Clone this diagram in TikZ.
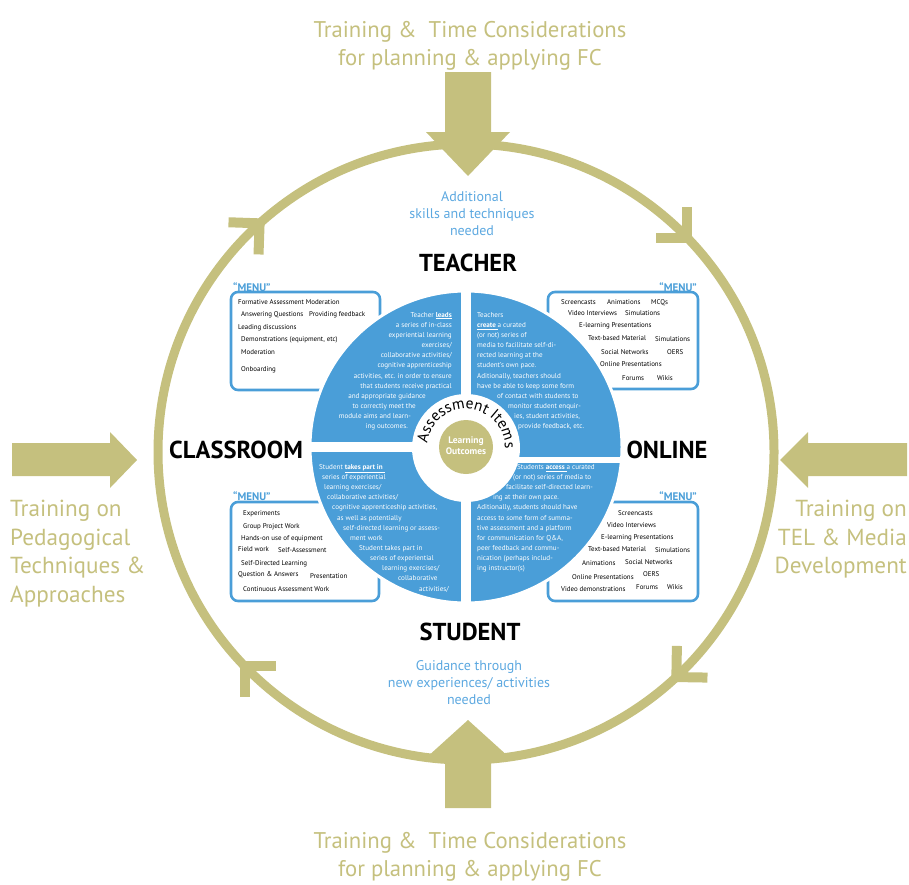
\documentclass[tikz,border=0pt]{standalone}
\usepackage{fontspec}
\setmainfont{PT Sans}
\usetikzlibrary{decorations.text}

\definecolor{fcolive}{RGB}{197,192,126}
\definecolor{fcblue}{RGB}{74,158,216}
\definecolor{fcsky}{RGB}{92,168,224}

\newcommand{\rpad}[1]{\rule{#1}{0pt}}

\tikzset{
    ring/.style={draw=fcolive, line width=9},
    chev/.style={draw=fcolive, line width=10, miter limit=10},
    bigarrow/.style={fill=fcolive},
    quad/.style={fill=fcblue, draw=white, line width=3},
    cut/.style={fill=white},
    menubox/.style={draw=fcblue, fill=white, line width=2.6, rounded corners=7},
    menutag/.style={font=\fontsize{11}{11}\selectfont\bfseries, text=fcblue, inner sep=0, anchor=base west},
    item/.style={font=\fontsize{6.9}{7}\selectfont, inner sep=0, anchor=base west},
    qtext/.style={font=\fontsize{7.1}{10.15}\selectfont, text=white, inner sep=0},
    role/.style={font=\fontsize{24.5}{24.5}\selectfont\bfseries, inner sep=0},
    need/.style={font=\fontsize{14}{17}\selectfont, text=fcsky, align=center, inner sep=0, anchor=north},
    train/.style={font=\fontsize{22.7}{28.6}\selectfont, text=fcolive, inner sep=0},
  }

\begin{document}
\begin{tikzpicture}[x=1pt, y=1pt]
    \useasboundingbox (0,0) rectangle (909,-884);

    % outer cycle
    \draw[ring] (466,-452) circle[radius=308];
    \foreach \a in {133,45,-46,-135} {
        \begin{scope}[shift={(466,-452)}, rotate=\a]
            \draw[chev] (286,17) -- (308,-5) -- (330,17);
        \end{scope}
    }

    % training arrows
    \fill[bigarrow] (445,-72) -- (491,-72) -- (491,-132) -- (510,-132) -- (468,-176) -- (426,-132) -- (445,-132) -- cycle;
    \fill[bigarrow] (445,-808) -- (491,-808) -- (491,-758) -- (510,-758) -- (468,-720) -- (426,-758) -- (445,-758) -- cycle;
    \fill[bigarrow] (12,-443) -- (110,-443) -- (110,-432) -- (137,-460) -- (110,-488) -- (110,-476) -- (12,-476) -- cycle;
    \fill[bigarrow] (907,-443) -- (808,-443) -- (808,-432) -- (780,-460) -- (808,-488) -- (808,-476) -- (907,-476) -- cycle;

    \node[train, align=center, anchor=north] (trtop) at (470,-21) {Training \&\ \ Time Considerations\\for planning \& applying FC};
    \node[train, align=center, anchor=north] (trbot) at (470,-832) {Training \&\ \ Time Considerations\\for planning \& applying FC};
    \node[train, font=\fontsize{23.2}{28.6}\selectfont, align=left, anchor=north west] (trleft) at (10,-500) {Training on\\Pedagogical\\Techniques \&\\Approaches};
    \node[train, font=\fontsize{23.2}{28.6}\selectfont, align=right, anchor=north east] (trright) at (907,-500) {Training on\\TEL \& Media\\Development};

    % menus (the quadrants overlap them)
    \draw[menubox] (231,-292) rectangle (380,-390);
    \draw[menubox] (548,-292) rectangle (698,-389);
    \draw[menubox] (231,-502) rectangle (379,-601);
    \draw[menubox] (548,-502) rectangle (698,-601);
    \node[menutag] (mtl) at (233,-291) {``MENU''};
    \node[menutag, anchor=base east] (mtr) at (697,-291) {``MENU''};
    \node[menutag] (mbl) at (233,-500) {``MENU''};
    \node[menutag, anchor=base east] (mbr) at (697,-500) {``MENU''};

    % quadrants
    \filldraw[quad] (466,-447) circle[radius=156];
    \fill[cut] (461,-285) rectangle (471,-610);
    \fill[cut] (300,-442) rectangle (466,-452);
    \fill[cut] (466,-457) rectangle (630,-463);
    \fill[cut] (466,-448) circle[radius=54];
    \fill[fcolive] (466,-447) circle[radius=27];

    \node[font=\fontsize{9.5}{11}\selectfont\bfseries, text=white, align=center, inner sep=0] (lo) at (466,-446) {Learning\\Outcomes};
    \path[decorate, decoration={text along path, text={|\fontsize{15.5}{15.5}\selectfont|Assessment Items}, text align=center}]
        (466,-448) ++(182:39) arc[start angle=182, end angle=-10, radius=39];

    \node[qtext, align=right, anchor=north east] (qtl) at (452,-312) {Teacher \underline{\textbf{leads}}\\a series of in-class\\experiential learning\\exercises/\\collaborative activities/\\cognitive apprenticeship\\activities, etc. in order to ensure\\that students receive practical\\and appropriate guidance\rpad{26pt}\\to correctly meet the\rpad{36pt}\\module aims and learn-\rpad{41pt}\\ing outcomes.\rpad{44pt}};
    \node[qtext, align=left, anchor=north west] (qtr) at (477,-312) {Teachers\\\underline{\textbf{create }}a curated\\(or not) series of\\media to facilitate self-di-\\rected learning at the\\student's own pace.\\Aditionally, teachers should\\have be able to keep some form\\\hspace*{20pt}of contact with students to\\\hspace*{31pt}monitor student enquir-\\\hspace*{37pt}ies, student activities,\\\hspace*{41pt}provide feedback, etc.};
    \node[qtext, align=left, anchor=north west] (qbl) at (319,-464) {Student \underline{\textbf{takes part in }}\\\hspace*{3pt}series of experiential\\\hspace*{5pt}learning exercises/\\\hspace*{8pt}collaborative activities/\\\hspace*{13pt}cognitive apprenticeship activities,\\\hspace*{18pt}as well as potentially\\\hspace*{24pt}self-directed learning or assess-\\\hspace*{31pt}ment work\\\hspace*{40pt}Student takes part in\\\hspace*{51pt}series of experiential\\\hspace*{63pt}learning exercises/\\\hspace*{79pt}collaborative\\\hspace*{100pt}activities/};
    \node[qtext, align=left, anchor=north west] (qbr) at (477,-464) {\hspace*{40pt}Students \underline{\textbf{access }}a curated\\\hspace*{36pt}(or not) series of media to\\\hspace*{29pt}facilitate self-directed learn-\\\hspace*{16pt}ing at their own pace.\\Aditionally, students should have\\access to some form of summa-\\tive assessment and a platform\\for communication for Q\&A,\\peer feedback and commu-\\nication (perhaps includ-\\ing instructor(s)};

    % menu items
    \node[item] (tl1) at (238,-304) {Formative Assessment Moderation};
    \node[item] (tl2) at (241,-316) {Answering Questions};
    \node[item] (tl3) at (309,-316) {Providing feedback};
    \node[item] (tl4) at (238,-329) {Leading discussions};
    \node[item] (tl5) at (241,-341) {Demonstrations (equipment, etc)};
    \node[item] (tl6) at (241,-354) {Moderation};
    \node[item] (tl7) at (241,-371) {Onboarding};

    \node[item] (tr1) at (561,-304) {Screencasts};
    \node[item] (tr2) at (607,-304) {Animations};
    \node[item] (tr3) at (651,-304) {MCQs};
    \node[item] (tr4) at (568,-315) {Video Interviews};
    \node[item] (tr5) at (625,-315) {Simulations};
    \node[item] (tr6) at (579,-327) {E-learning Presentations};
    \node[item] (tr7) at (588,-340) {Text-based Material};
    \node[item] (tr8) at (655,-341) {Simulations};
    \node[item] (tr9) at (601,-354) {Social Networks};
    \node[item] (tr10) at (667,-354) {OERS};
    \node[item] (tr11) at (600,-366) {Online Presentations};
    \node[item] (tr12) at (622,-380) {Forums};
    \node[item] (tr13) at (657,-380) {Wikis};

    \node[item] (bl1) at (243,-515) {Experiments};
    \node[item] (bl2) at (243,-528) {Group Project Work};
    \node[item] (bl3) at (241,-540) {Hands-on use of equipment};
    \node[item] (bl4) at (238,-551) {Field work};
    \node[item] (bl5) at (278,-552) {Self-Assessment};
    \node[item] (bl6) at (241,-565) {Self-Directed Learning};
    \node[item] (bl7) at (238,-576) {Question \& Answers};
    \node[item] (bl8) at (310,-578) {Presentation};
    \node[item] (bl9) at (243,-591) {Continuous Assessment Work};

    \node[item] (br1) at (618,-515) {Screencasts};
    \node[item] (br2) at (607,-527) {Video Interviews};
    \node[item] (br3) at (601,-539) {E-learning Presentations};
    \node[item] (br4) at (588,-551) {Text-based Material};
    \node[item] (br5) at (655,-552) {Simulations};
    \node[item] (br6) at (582,-565) {Animations};
    \node[item] (br7) at (625,-564) {Social Networks};
    \node[item] (br8) at (572,-579) {Online Presentations};
    \node[item] (br9) at (643,-576) {OERS};
    \node[item] (br10) at (561,-591) {Video demonstrations};
    \node[item] (br11) at (636,-589) {Forums};
    \node[item] (br12) at (667,-589) {Wikis};

    % roles and needs
    \node[role] (teacher) at (468,-263) {TEACHER};
    \node[role] (student) at (470,-632) {STUDENT};
    \node[role] (classroom) at (236,-450) {CLASSROOM};
    \node[role] (online) at (667,-450) {ONLINE};
    \node[need] (needtop) at (472,-191) {Additional\\skills and techniques\\needed};
    \node[need] (needbot) at (469,-660) {Guidance through\\new experiences/ activities\\needed};
\end{tikzpicture}
\end{document}
